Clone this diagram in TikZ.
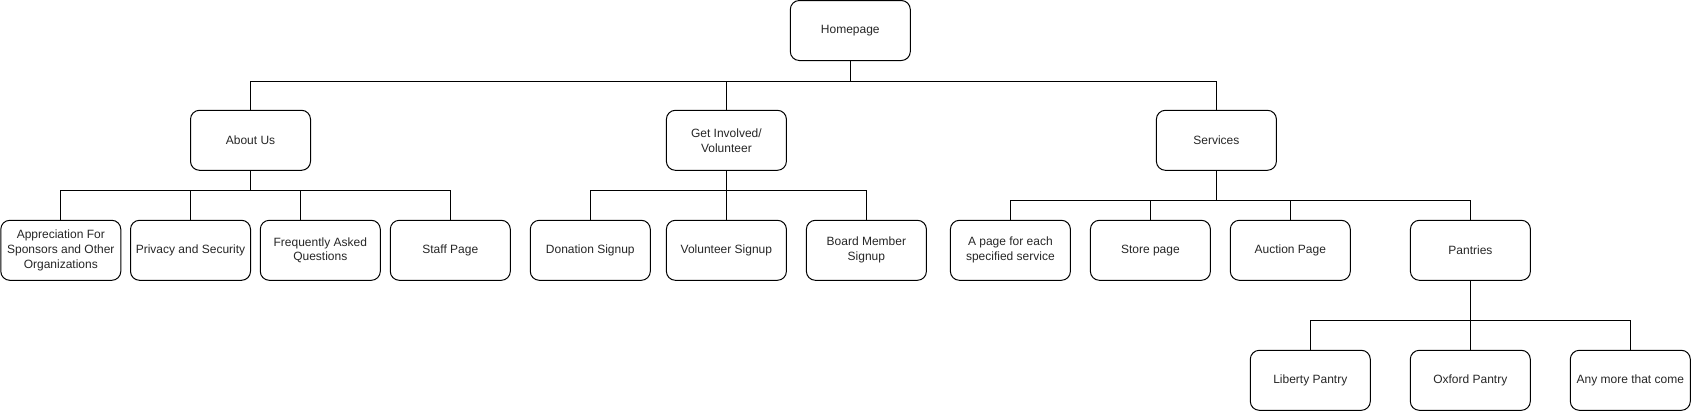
\documentclass[tikz,border=0pt]{standalone}
\usepackage{fontspec}
\setmainfont{Liberation Sans}
\begin{document}
\begin{tikzpicture}[x=0.75pt,y=-0.75pt,
  pagebox/.style={draw=black,line width=0.75pt,rounded corners=6.75pt,minimum width=90pt,minimum height=45pt,inner sep=0pt,align=center,font=\fontsize{9}{11.2}\selectfont,text=black!85},
  link/.style={draw=black,line width=0.75pt}]
\useasboundingbox (0,0) rectangle (1691,411);
% level 0
\node[pagebox] (home) at (850.3,30.5) {Homepage};
% level 1
\node[pagebox] (about) at (250.5,140.3) {About Us};
\node[pagebox] (involved) at (726.4,140.3) {Get Involved/\\Volunteer};
\node[pagebox] (services) at (1216.4,140.3) {Services};
% level 2
\node[pagebox] (appr) at (60.8,250.3) {Appreciation For\\Sponsors and Other\\Organizations};
\node[pagebox] (privacy) at (190.5,250.3) {Privacy and Security};
\node[pagebox] (faq) at (320.3,250.3) {Frequently Asked\\Questions};
\node[pagebox] (staff) at (450.3,250.3) {Staff Page};
\node[pagebox] (donation) at (590.3,250.3) {Donation Signup};
\node[pagebox] (volunteer) at (726.4,250.3) {Volunteer Signup};
\node[pagebox] (board) at (866.4,250.3) {Board Member\\Signup};
\node[pagebox] (apage) at (1010.4,250.3) {A page for each\\specified service};
\node[pagebox] (store) at (1150.4,250.3) {Store page};
\node[pagebox] (auction) at (1290.3,250.3) {Auction Page};
\node[pagebox] (pantries) at (1470.4,250.3) {Pantries};
% level 3
\node[pagebox] (liberty) at (1310.3,380.3) {Liberty Pantry};
\node[pagebox] (oxford) at (1470.3,380.3) {Oxford Pantry};
\node[pagebox] (anymore) at (1630.3,380.3) {Any more that come};
% connectors
\coordinate (faqin) at ([xshift=-15pt]faq.north);
\foreach \c in {about,involved,services}
  \draw[link] (home.south) -- ++(0,20) -| (\c.north);
\foreach \c in {appr,privacy,staff}
  \draw[link] (about.south) -- ++(0,20) -| (\c.north);
\draw[link] (about.south) -- ++(0,20) -| (faqin);
\foreach \c in {donation,volunteer,board}
  \draw[link] (involved.south) -- ++(0,20) -| (\c.north);
\foreach \c in {apage,store,auction,pantries}
  \draw[link] (services.south) -- ++(0,30) -| (\c.north);
\foreach \c in {liberty,oxford,anymore}
  \draw[link] (pantries.south) -- ++(0,40) -| (\c.north);
\end{tikzpicture}
\end{document}
